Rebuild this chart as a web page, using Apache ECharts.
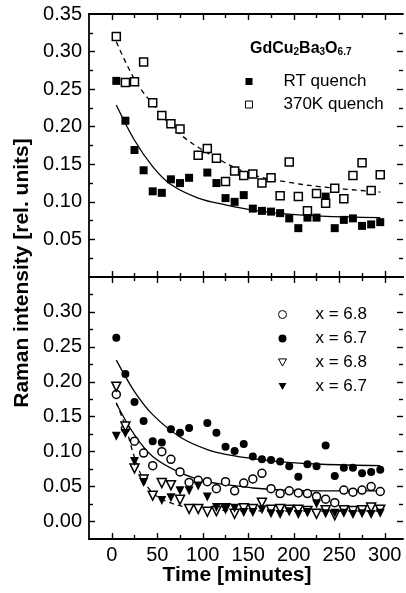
<!DOCTYPE html>
<html>
<head>
<meta charset="utf-8">
<title>Raman intensity vs time</title>
<script src="https://cdn.jsdelivr.net/npm/echarts@6/dist/echarts.min.js"></script>
<style>
  html, body { margin: 0; padding: 0; background: #fff; }
  #chart { width: 406px; height: 593px; }
</style>
</head>
<body>
<div id="chart"></div>
<script>
// measurement times (minutes)
var times = [5, 15, 25, 35, 45, 55, 65, 75, 85, 95, 105, 115, 125, 135, 145,
             155, 165, 175, 185, 195, 205, 215, 225, 235, 245, 255, 265, 275, 285, 295];

// top panel: GdCu2Ba3O6.7
var rtQuench = [0.261, 0.208, 0.169, 0.142, 0.114, 0.112, 0.130, 0.125, 0.132, null,
                0.139, 0.125, 0.105, 0.100, 0.109, 0.091, 0.088, 0.087, 0.085, 0.078,
                0.065, 0.079, 0.079, 0.107, 0.065, 0.076, 0.078, 0.068, 0.070, 0.073];
var k370Quench = [0.320, 0.259, 0.260, 0.286, 0.232, 0.215, 0.204, 0.197, null, 0.162,
                  0.171, 0.158, 0.127, 0.141, 0.135, 0.137, 0.125, 0.132, 0.108, 0.153,
                  0.107, 0.088, 0.111, 0.098, 0.118, 0.104, 0.135, 0.152, 0.115, 0.136];
// fitted curves [t, value]
var fitRT = [[5, 0.229], [25, 0.182], [45, 0.147], [65, 0.123], [95, 0.105], [125, 0.096],
             [155, 0.089], [190, 0.084], [230, 0.081], [295, 0.079]];
var fit370 = [[5, 0.313], [25, 0.263], [45, 0.230], [75, 0.190], [120, 0.155], [155, 0.136],
              [190, 0.127], [230, 0.120], [295, 0.113]];

// bottom panel
var circ68 = [0.182, 0.133, 0.115, 0.098, 0.080, 0.100, 0.089, 0.071, 0.056, 0.059,
              0.057, 0.047, 0.057, 0.044, 0.055, 0.061, 0.069, 0.047, 0.040, 0.044,
              0.041, 0.040, 0.036, 0.032, 0.027, 0.045, 0.042, 0.045, 0.050, 0.043];
var circ67 = [0.263, 0.211, 0.171, 0.144, 0.115, 0.113, 0.132, 0.127, 0.134, null,
              0.141, 0.127, 0.107, 0.101, 0.111, 0.093, 0.089, 0.088, 0.086, 0.079,
              0.064, 0.082, 0.079, 0.109, 0.065, 0.077, 0.077, 0.069, 0.071, 0.074];
var tri68 = [0.193, 0.136, 0.076, 0.060, 0.037, 0.055, 0.052, 0.031, 0.018, 0.018,
             0.014, 0.015, 0.019, 0.011, 0.019, 0.018, 0.027, 0.017, 0.018, 0.017,
             0.017, 0.015, 0.011, 0.016, 0.009, 0.016, 0.015, 0.016, 0.020, 0.017];
var tri67 = [0.122, 0.126, 0.086, 0.056, null, 0.030, 0.034, 0.044, 0.044, 0.051,
             0.035, 0.020, 0.019, 0.019, 0.013, 0.013, 0.017, 0.011, 0.010, 0.014,
             0.010, 0.013, 0.025, 0.011, 0.012, 0.012, 0.010, 0.011, 0.010, 0.012];
var fit67 = [[5, 0.231], [25, 0.186], [45, 0.153], [75, 0.121], [105, 0.103], [130, 0.095],
             [155, 0.090], [190, 0.085], [230, 0.082], [295, 0.080]];
var fit68 = [[5, 0.169], [25, 0.124], [45, 0.093], [75, 0.070], [105, 0.057], [130, 0.052],
             [155, 0.048], [190, 0.045], [230, 0.044], [295, 0.044]];
var fitTri = [[5, 0.170], [15, 0.136], [25, 0.092], [35, 0.059], [45, 0.041], [60, 0.029],
              [85, 0.020], [120, 0.016], [200, 0.015], [295, 0.015]];

// ticks
var xLabels = [0, 50, 100, 150, 200, 250, 300];
var xMinor = [25, 75, 125, 175, 225, 275];
var yTopLabels = [0.05, 0.10, 0.15, 0.20, 0.25, 0.30, 0.35];
var yTopMajor = [0.05, 0.10, 0.15, 0.20, 0.25, 0.30];
var yBotLabels = [0, 0.05, 0.10, 0.15, 0.20, 0.25, 0.30];
var yMinor = [0.025, 0.075, 0.125, 0.175, 0.225, 0.275, 0.325];

var FONT = 'Liberation Sans, Arial, Helvetica, sans-serif';
var TRI_DOWN = 'path://M0,0 L10,0 L5,9 Z';

function pairs(vals) {
    var out = [];
    for (var i = 0; i < times.length; i++) {
        if (vals[i] !== null) out.push([times[i], vals[i]]);
    }
    return out;
}

// one axis (major or minor ticks) — several are stacked on each side
function axis(grid, pos, min, max, ticks, len, showLine, labels) {
    var a = {
        type: 'value', gridIndex: grid, position: pos, min: min, max: max,
        splitLine: { show: false },
        axisLine: { show: showLine, onZero: false, lineStyle: { color: '#000', width: 1.8 } },
        axisTick: { show: true, inside: true, length: len, customValues: ticks,
                    lineStyle: { color: '#000', width: 1.4 } },
        axisLabel: { show: false }
    };
    if (labels) {
        a.axisLabel = {
            show: true, customValues: labels, color: '#000', fontSize: 20, fontFamily: FONT,
            margin: pos === 'left' ? 7 : 6,
            formatter: function (v) { return pos === 'left' ? v.toFixed(2) : String(Math.round(v)); }
        };
    }
    return a;
}

var X0 = -25, X1 = 320;
var xAxes = [
    axis(0, 'bottom', X0, X1, xLabels, 6, true, null),
    axis(0, 'bottom', X0, X1, xMinor, 4, false, null),
    axis(0, 'top', X0, X1, xLabels, 6, true, null),
    axis(0, 'top', X0, X1, xMinor, 4, false, null),
    axis(1, 'bottom', X0, X1, xLabels, 6, true, xLabels),
    axis(1, 'bottom', X0, X1, xMinor, 4, false, null),
    axis(1, 'top', X0, X1, xLabels, 6, true, null),
    axis(1, 'top', X0, X1, xMinor, 4, false, null)
];
var yAxes = [
    axis(0, 'left', 0, 0.35, yTopMajor, 6, true, yTopLabels),
    axis(0, 'left', 0, 0.35, yMinor, 4, false, null),
    axis(0, 'right', 0, 0.35, yTopMajor, 6, false, null),
    axis(0, 'right', 0, 0.35, yMinor, 4, false, null),
    axis(1, 'left', -0.025, 0.35, yBotLabels, 6, true, yBotLabels),
    axis(1, 'left', -0.025, 0.35, yMinor, 4, false, null),
    axis(1, 'right', -0.025, 0.35, yBotLabels, 6, false, null),
    axis(1, 'right', -0.025, 0.35, yMinor, 4, false, null)
];

function points(name, vals, panel, symbol, filled, size, rotate) {
    return {
        name: name, type: 'scatter', xAxisIndex: panel * 4, yAxisIndex: panel * 4,
        data: pairs(vals), symbol: symbol, symbolSize: size, symbolRotate: rotate || 0, z: 3,
        itemStyle: filled ? { color: '#000', opacity: 1 }
                          : { color: '#fff', borderColor: '#000', borderWidth: 1.5, opacity: 1 }
    };
}
function fit(name, data, panel, dashed) {
    return {
        name: name, type: 'line', xAxisIndex: panel * 4, yAxisIndex: panel * 4,
        data: data, smooth: 0.35, showSymbol: false, symbol: 'none', z: 2,
        lineStyle: { color: '#000', width: 1.3, type: dashed ? [5, 4] : 'solid' }
    };
}

var chart = echarts.init(document.getElementById('chart'));
chart.setOption({
    animation: false,
    backgroundColor: '#fff',
    grid: [
        { left: 89, right: 3, top: 14, height: 263 },
        { left: 89, right: 3, top: 277, height: 262 }
    ],
    xAxis: xAxes,
    yAxis: yAxes,
    title: {
        left: 250, top: 37, padding: 0,
        text: '{b|GdCu}{s|2}{b|Ba}{s|3}{b|O}{s|6.7}',
        textStyle: {
            rich: {
                b: { fontSize: 16, fontWeight: 'bold', fontFamily: FONT, color: '#000', lineHeight: 20, verticalAlign: 'bottom' },
                s: { fontSize: 10, fontWeight: 'bold', fontFamily: FONT, color: '#000', lineHeight: 10, verticalAlign: 'bottom' }
            }
        }
    },
    legend: [
        {
            data: ['RT quench', '370K quench'], orient: 'vertical', left: 245, top: 73,
            padding: 0, itemGap: 6, itemWidth: 7, itemHeight: 7, selectedMode: false,
            itemStyle: { borderWidth: 1 },
            textStyle: { fontSize: 17, fontFamily: FONT, color: '#000', lineHeight: 17, padding: [0, 0, 0, 26] }
        },
        {
            data: [
                { name: 'x = 6.8' },
                { name: 'x = 6.7' },
                { name: 'x = 6.8 ', icon: TRI_DOWN },
                { name: 'x = 6.7 ', icon: TRI_DOWN }
            ],
            orient: 'vertical', left: 278, top: 306,
            padding: 0, itemGap: 7, itemWidth: 8, itemHeight: 8, selectedMode: false,
            itemStyle: { borderWidth: 1 },
            formatter: function (n) { return n.trim(); },
            textStyle: { fontSize: 17, fontFamily: FONT, color: '#000', lineHeight: 17, padding: [0, 0, 0, 24] }
        }
    ],
    graphic: [
        {
            type: 'text', x: 22, y: 273, rotation: Math.PI / 2,
            style: { text: 'Raman intensity [rel. units]', font: 'bold 21px ' + FONT, fill: '#000',
                     textAlign: 'center', textVerticalAlign: 'middle' }
        },
        {
            type: 'text', x: 237, y: 575,
            style: { text: 'Time [minutes]', font: 'bold 21px ' + FONT, fill: '#000',
                     textAlign: 'center', textVerticalAlign: 'middle' }
        }
    ],
    series: [
        fit('fitRT', fitRT, 0, false),
        fit('fit370', fit370, 0, true),
        points('RT quench', rtQuench, 0, 'rect', true, 8),
        points('370K quench', k370Quench, 0, 'rect', false, 8),
        fit('fit67', fit67, 1, false),
        fit('fit68', fit68, 1, false),
        fit('fitTri', fitTri, 1, true),
        points('x = 6.8', circ68, 1, 'circle', false, 8),
        points('x = 6.7', circ67, 1, 'circle', true, 8),
        points('x = 6.8 ', tri68, 1, 'triangle', false, 9, 180),
        points('x = 6.7 ', tri67, 1, 'triangle', true, 9, 180)
    ]
});
</script>
</body>
</html>
